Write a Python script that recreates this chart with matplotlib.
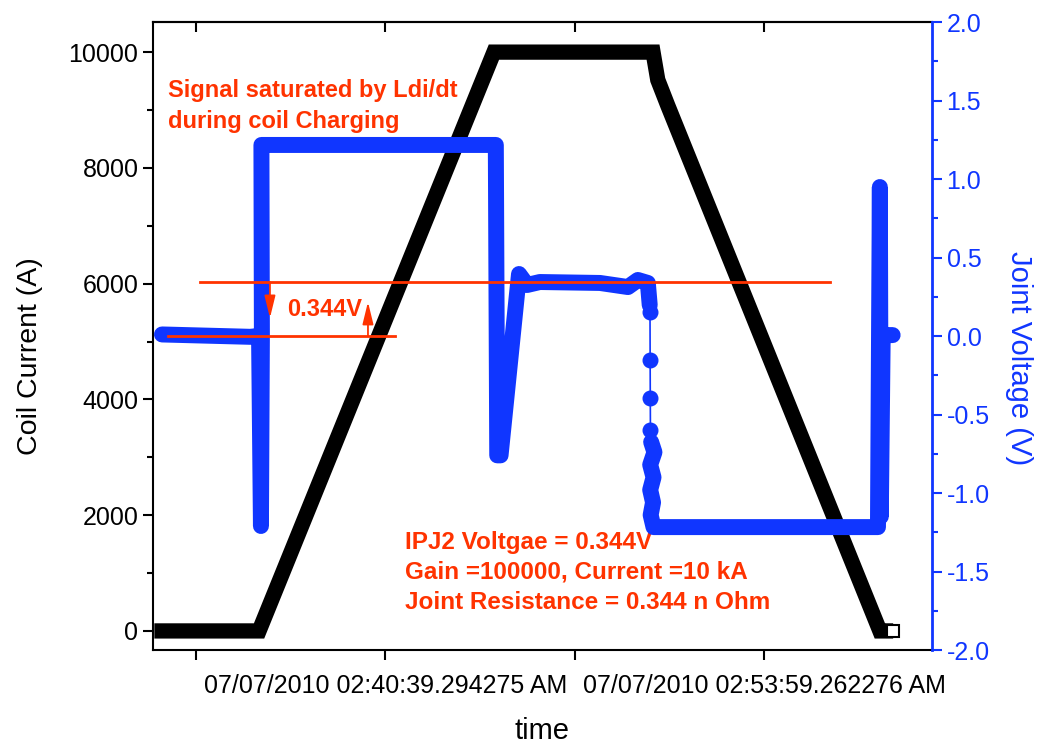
import matplotlib
matplotlib.use("Agg")
import matplotlib.pyplot as plt

plt.rcParams['font.family'] = ['Liberation Sans', 'DejaVu Sans']
plt.rcParams['axes.unicode_minus'] = False

# --- data (time in s relative to 07/07/2010 02:40:39.294275 AM) ---
cur_t = [-472, -267, 229, 565, 575, 596, 1044, 1056]
cur_a = [0, 0, 10000, 10000, 9520, 9080, 0, 0]
cur_end_t = [1072]
cur_end_a = [0]

# joint voltage, dense stretches (drawn as a thick trace)
v1_t = [-472, -286, -267, -263, -261, -262, -258, 233, 236, 243, 282, 299, 326, 453, 512, 533, 554, 558]
v1_v = [0.01, -0.005, 0.0, -1.21, 0.0, 1.217, 1.217, 1.217, -0.76, -0.76, 0.395, 0.325, 0.344, 0.338,
        0.312, 0.357, 0.338, 0.197]
# isolated samples during the drop of the signal
vd_t = [558.6, 558.9, 559.2, 559.5]
vd_v = [0.153, -0.153, -0.395, -0.599]
v2_t = [561, 568, 559, 566, 559, 565, 560, 566, 1040, 1044, 1046, 1050, 1071]
v2_v = [-0.675, -0.74, -0.82, -0.9, -0.98, -1.06, -1.14, -1.217, -1.217, 0.949, -1.15, 0.006, 0.006]

tick_pos = [-399.984, 0, 399.984, 799.968]
tick_lab = ['', '07/07/2010 02:40:39.294275 AM', '', '07/07/2010 02:53:59.262276 AM']

blue = '#1036ff'
red = '#ff3300'

fig = plt.figure(figsize=(10.4, 7.44), dpi=100)
ax = fig.add_axes([0.1471, 0.1263, 0.7490, 0.8441])
ax2 = ax.twinx()

# current (left axis)
ax.plot(cur_t, cur_a, color='black', lw=11, solid_joinstyle='miter', solid_capstyle='projecting')
ax.plot(cur_end_t, cur_end_a, 's', ms=8.5, mfc='white', mec='black', mew=1.5)
ax.set_xlim(-491, 1154)
ax.set_ylim(-330, 10520)
ax.set_yticks([0, 2000, 4000, 6000, 8000, 10000])
ax.set_yticks([1000, 3000, 5000, 7000, 9000], minor=True)
ax.set_xticks(tick_pos)
ax.set_xticklabels(tick_lab)
ax.tick_params(axis='both', labelsize=18, width=1.5, length=7, direction='out')
ax.tick_params(axis='y', which='minor', width=1.5, length=4)
ax.tick_params(axis='x', pad=10)
ax.set_ylabel('Coil Current (A)', fontsize=20.5)
ax.yaxis.set_label_coords(-0.141, 0.468)
ax.set_xlabel('time', fontsize=21, labelpad=14)
for s in ['left', 'bottom', 'top']:
    ax.spines[s].set_linewidth(1.5)
ax.spines['right'].set_visible(False)

sec = ax.secondary_xaxis('top')
sec.set_xticks(tick_pos)
sec.tick_params(direction='in', length=7, width=1.5, labeltop=False)
sec.spines['top'].set_linewidth(1.5)

# voltage (right axis)
ax2.plot([v1_t[-1]] + vd_t + [v2_t[0]], [v1_v[-1]] + vd_v + [v2_v[0]], color=blue, lw=1.2)
ax2.plot(vd_t, vd_v, 'o', color=blue, ms=10.5, zorder=3)
ax2.plot(v1_t, v1_v, color=blue, lw=11.5, solid_joinstyle='round', solid_capstyle='round')
ax2.plot(v2_t, v2_v, color=blue, lw=11.5, solid_joinstyle='round', solid_capstyle='round')
ax2.set_ylim(-2, 2)
ax2.set_yticks([-2.0, -1.5, -1.0, -0.5, 0.0, 0.5, 1.0, 1.5, 2.0])
ax2.set_yticks([-1.75, -1.25, -0.75, -0.25, 0.25, 0.75, 1.25, 1.75], minor=True)
ax2.tick_params(axis='y', which='major', colors=blue, labelsize=18, width=1.5, length=7)
ax2.tick_params(axis='y', which='minor', colors=blue, width=1.5, length=4)
ax2.set_ylabel('Joint Voltage (V)', fontsize=21, color=blue, rotation=270)
ax2.yaxis.set_label_coords(1.13, 0.465)
for s in ['left', 'bottom', 'top']:
    ax2.spines[s].set_visible(False)
ax2.spines['right'].set_color(blue)
ax2.spines['right'].set_linewidth(2)

# annotations
ax2.plot([-392, 938], [0.344, 0.344], color=red, lw=2)
ax2.plot([-459, 20], [0.0, 0.0], color=red, lw=2)
arrow = dict(arrowstyle='-|>,head_length=0.9,head_width=0.22', color=red, lw=1.3,
             mutation_scale=15, shrinkA=0, shrinkB=0)
ax2.annotate('', xy=(-244, 0.115), xytext=(-244, 0.344), arrowprops=arrow)
ax2.annotate('', xy=(-37, 0.217), xytext=(-37, 0.0), arrowprops=arrow)
ax.text(0.172, 0.543, '0.344V', transform=ax.transAxes, color=red, fontsize=17,
        fontweight='bold', va='center', ha='left')
ax.text(0.0193, 0.909, 'Signal saturated by Ldi/dt\nduring coil Charging', transform=ax.transAxes,
        color=red, fontsize=17, fontweight='bold', va='top', ha='left', linespacing=1.42)
ax.text(0.3235, 0.19, 'IPJ2 Voltgae = 0.344V\nGain =100000, Current =10 kA\nJoint Resistance = 0.344 n Ohm',
        transform=ax.transAxes, color=red, fontsize=17.5, fontweight='bold', va='top', ha='left',
        linespacing=1.4)

fig.savefig('out.png', dpi=100)
